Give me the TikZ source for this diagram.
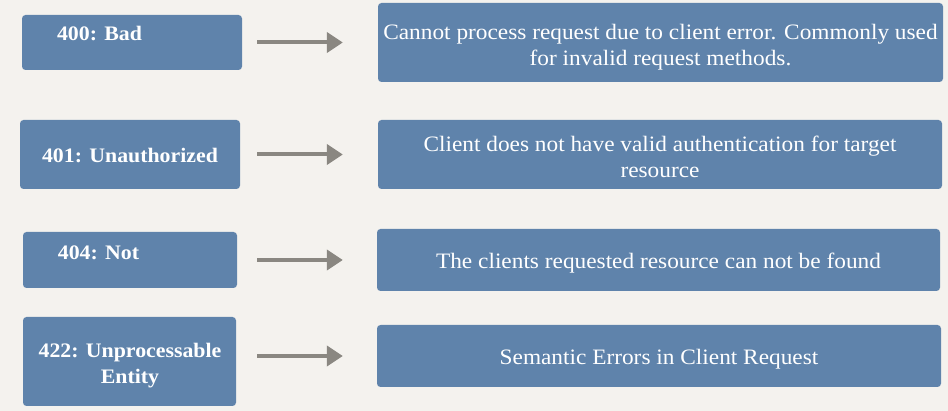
\documentclass[tikz,border=0pt]{standalone}
\usepackage{fontspec}
\setmainfont{Liberation Serif}[FakeStretch=1.06]
\usetikzlibrary{arrows.meta}
\definecolor{bg}{HTML}{F4F2EE}
\definecolor{boxblue}{HTML}{5F83AB}
\definecolor{arrgray}{HTML}{8A8781}
\tikzset{
  box/.style={fill=boxblue, draw=none, rounded corners=3.5pt, inner sep=0pt},
  codetext/.style={text=white, align=center, inner sep=0pt, font=\fontsize{20.6}{26}\selectfont\bfseries},
  desctext/.style={text=white, align=center, inner sep=0pt, font=\fontsize{22}{26}\selectfont},
  arr/.style={draw=arrgray, line width=4pt, -{Triangle[length=16pt,width=20pt]}}
}
\begin{document}
\begin{tikzpicture}[x=1pt,y=-1pt]
\fill[bg] (0,0) rectangle (948,411);
\useasboundingbox (0,0) rectangle (948,411);

% left boxes
\node[box, minimum width=220pt, minimum height=55pt] (L1) at (132,42.5) {};
\node[box, minimum width=220pt, minimum height=69pt] (L2) at (130,154.5) {};
\node[box, minimum width=214pt, minimum height=56pt] (L3) at (130,260) {};
\node[box, minimum width=213pt, minimum height=89pt] (L4) at (129.5,361.5) {};

\node[codetext] (t1) at (99.5,34) {400: Bad};
\node[codetext] (t2) at (130,156) {401: Unauthorized};
\node[codetext] (t3) at (98.5,253) {404: Not};
\node[codetext] (t4) at (130,366) {422: Unprocessable\\Entity};

% right boxes
\node[box, minimum width=565pt, minimum height=79pt] (R1) at (660.5,42.5) {};
\node[box, minimum width=564pt, minimum height=69pt] (R2) at (660,154.5) {};
\node[box, minimum width=563pt, minimum height=62pt] (R3) at (658.5,260) {};
\node[box, minimum width=564pt, minimum height=62pt] (R4) at (659,356) {};

\node[desctext] (d1) at (660.5,47)
  {Cannot process request due to client error. Commonly used\\for invalid request methods.};
\node[desctext] (d2) at (660,156.5)
  {Client does not have valid authentication for target\\resource};
\node[desctext] (d3) at (658.5,263)
  {The clients requested resource can not be found};
\node[desctext] (d4) at (659,359)
  {Semantic Errors in Client Request};

% arrows
\draw[arr, shorten <=15pt, shorten >=35pt] (L1.east |- R1.west) -- (R1.west);
\draw[arr, shorten <=17pt, shorten >=35pt] (L2.east |- R2.west) -- (R2.west);
\draw[arr, shorten <=20pt, shorten >=34pt] (L3.east |- R3.west) -- (R3.west);
\draw[arr, shorten <=21pt, shorten >=34pt] (L4.east |- R4.west) -- (R4.west);
\end{tikzpicture}
\end{document}
